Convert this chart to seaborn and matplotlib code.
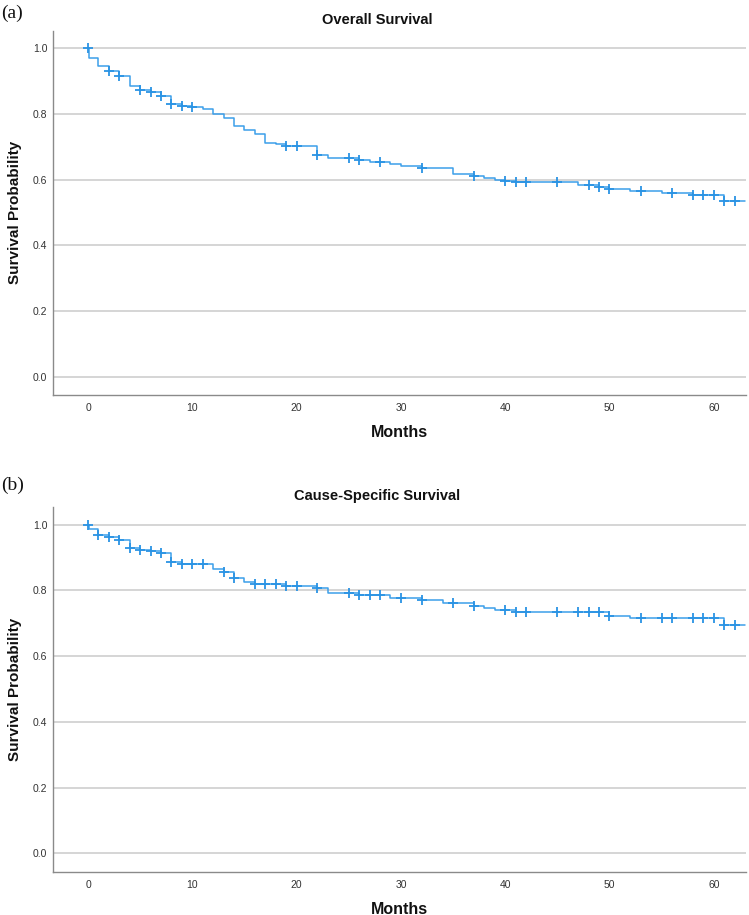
import numpy as np
import pandas as pd
import matplotlib
matplotlib.use("Agg")
import matplotlib.pyplot as plt
import seaborn as sns

# ---------------- data ----------------
month_ticks = [0, 10, 20, 30, 40, 50, 60]
prob_ticks = [0.0, 0.2, 0.4, 0.6, 0.8, 1.0]
panel_titles = ["Overall Survival", "Cause-Specific Survival"]
panel_letters = ["(a)", "(b)"]
max_followup = 63

os_event_months = [0.1, 1, 2, 3, 4, 5, 6, 7, 8, 9, 10, 11, 12, 13, 14, 15, 16, 17, 18, 19,
                   22, 23, 26, 27, 29, 30, 32, 35, 37, 38, 39, 40, 41, 47, 49, 50, 52, 55, 58, 61]
os_survival = [0.970, 0.947, 0.931, 0.916, 0.887, 0.872, 0.867, 0.856, 0.831, 0.826, 0.821,
               0.816, 0.799, 0.788, 0.763, 0.752, 0.740, 0.713, 0.708, 0.702,
               0.676, 0.666, 0.660, 0.654, 0.648, 0.641, 0.636, 0.618, 0.611, 0.604, 0.599,
               0.595, 0.592, 0.585, 0.579, 0.572, 0.565, 0.558, 0.552, 0.536]
os_censor_months = [0, 2, 3, 5, 6, 7, 8, 9, 10, 19, 20, 22, 25, 26, 28, 32, 37, 40, 41, 42,
                    45, 48, 49, 50, 53, 56, 58, 59, 60, 61, 62]

cs_event_months = [0.1, 1, 2, 3, 4, 5, 6, 7, 8, 9, 12, 13, 14, 15, 16, 17, 19, 22, 23, 26,
                   29, 32, 34, 37, 38, 39, 41, 50, 52, 61]
cs_survival = [0.986, 0.968, 0.964, 0.953, 0.928, 0.924, 0.919, 0.913, 0.886, 0.881, 0.864,
               0.857, 0.839, 0.825, 0.821, 0.819, 0.815, 0.807, 0.792, 0.785,
               0.778, 0.771, 0.763, 0.753, 0.747, 0.740, 0.733, 0.722, 0.716, 0.695]
cs_censor_months = [0, 1, 2, 3, 4, 5, 6, 7, 8, 9, 10, 11, 13, 14, 16, 17, 18, 19, 20, 22,
                    25, 26, 27, 28, 30, 32, 35, 37, 40, 41, 42, 45, 47, 48, 49, 50, 53, 55,
                    56, 58, 59, 60, 61, 62]

# ---------------- style ----------------
sns.set_theme(style="white")
plt.rcParams["font.family"] = ["Liberation Sans Narrow", "Liberation Sans", "DejaVu Sans"]

LINE_COLOR = "#3c9fea"
MARK_COLOR = "#2a93e4"
GRID_COLOR = "#d2d2d2"
SPINE_COLOR = "#8a8a8a"


def km_frames(ev_t, ev_s, cens_t, tmax):
    x = [0.0] + list(ev_t) + [tmax]
    y = [1.0] + list(ev_s) + [ev_s[-1]]
    curve = pd.DataFrame({"Months": x, "Survival": y})
    ev_t = np.asarray(ev_t)
    ev_s = np.asarray(ev_s)
    cy = []
    for t in cens_t:
        idx = np.searchsorted(ev_t, t, side="right") - 1
        cy.append(1.0 if idx < 0 else ev_s[idx])
    cens = pd.DataFrame({"Months": cens_t, "Survival": cy})
    return curve, cens


fig = plt.figure(figsize=(7.49, 9.15), dpi=100)
W, H = 749.0, 915.0
rects = [
    [53 / W, 1 - 394.7 / H, (745.7 - 53) / W, (394.7 - 30.7) / H],
    [53 / W, 1 - 871.7 / H, (745.7 - 53) / W, (871.7 - 507.3) / H],
]
ylims = [(-0.055, 1.054), (-0.056, 1.053)]
title_y = [1 - 20 / H, 1 - 496 / H]
letter_y = [1 - 13 / H, 1 - 485 / H]

datasets = [
    (os_event_months, os_survival, os_censor_months),
    (cs_event_months, cs_survival, cs_censor_months),
]

for i, (ev_t, ev_s, cens_t) in enumerate(datasets):
    ax = fig.add_axes(rects[i])
    curve, cens = km_frames(ev_t, ev_s, cens_t, max_followup)
    sns.lineplot(data=curve, x="Months", y="Survival", drawstyle="steps-post",
                 estimator=None, sort=False, color=LINE_COLOR, linewidth=1.1, ax=ax,
                 zorder=3)
    sns.scatterplot(data=cens, x="Months", y="Survival", marker="+", s=55,
                    color=MARK_COLOR, linewidth=1.3, ax=ax, zorder=4)
    ax.set_xlim(-3.36, 63.06)
    ax.set_ylim(*ylims[i])
    ax.set_xticks(month_ticks)
    ax.set_yticks(prob_ticks)
    ax.set_xticklabels([str(v) for v in month_ticks])
    ax.set_yticklabels([f"{v:.1f}" for v in prob_ticks])
    ax.tick_params(axis="both", length=0, labelsize=7.5, colors="#333333",
                   labelfontfamily="Liberation Sans")
    ax.tick_params(axis="x", pad=6)
    ax.tick_params(axis="y", pad=4)
    ax.yaxis.grid(True, color=GRID_COLOR, linewidth=1.3)
    ax.xaxis.grid(False)
    for side in ["top", "right"]:
        ax.spines[side].set_visible(False)
    for side in ["left", "bottom"]:
        ax.spines[side].set_color(SPINE_COLOR)
        ax.spines[side].set_linewidth(1.0)
    ax.set_xlabel("Months", fontsize=11.5, fontweight="bold", color="#111111")
    ax.xaxis.set_label_coords(0.5, -0.103)
    ax.xaxis.label.set_va("center")
    ax.set_ylabel("Survival Probability", fontsize=11, fontweight="bold", color="#111111")
    ax.yaxis.set_label_coords(-0.055, 0.5)
    ax.yaxis.label.set_va("center")
    fig.text(377 / W, title_y[i], panel_titles[i], ha="center", va="center",
             fontsize=10.5, fontweight="bold", color="#111111")
    fig.text(0.002, letter_y[i], panel_letters[i], ha="left", va="center",
             fontsize=14, family=["Liberation Serif", "DejaVu Serif"], color="#111111")

fig.savefig("out.png", dpi=100, facecolor="white")
